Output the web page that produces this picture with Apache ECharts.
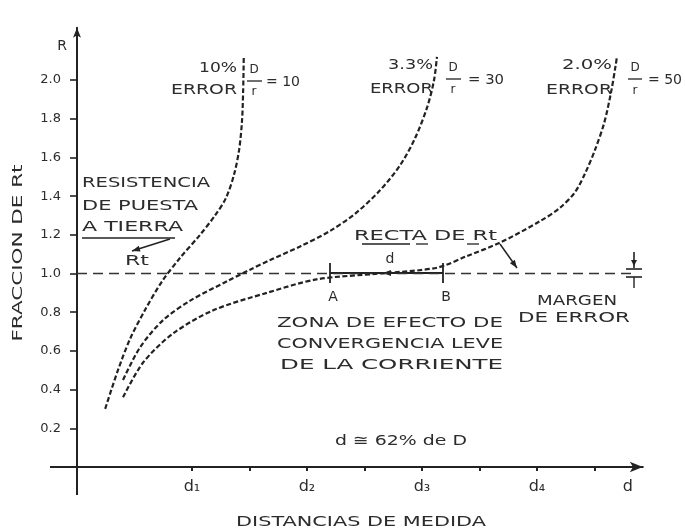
<!DOCTYPE html>
<html>
<head>
<meta charset="utf-8">
<script src="https://cdn.jsdelivr.net/npm/echarts@6/dist/echarts.min.js"></script>
<style>
  html, body { margin: 0; padding: 0; background: #ffffff; }
  #chart { width: 685px; height: 531px; }
</style>
</head>
<body>
<div id="chart"></div>
<script>
// Measured fraction of Rt against the distance of the potential probe
// (x in units of the d-scale, y as fraction of the earth resistance Rt).
const curve10X = [0.49, 0.70, 0.92, 1.18, 1.48, 1.79, 2.14, 2.40, 2.59, 2.73, 2.82, 2.87, 2.89, 2.90];
const curve10Y = [0.30, 0.49, 0.66, 0.81, 0.96, 1.08, 1.20, 1.30, 1.39, 1.51, 1.64, 1.79, 1.95, 2.12];

const curve30X = [0.80, 1.10, 1.50, 1.97, 2.61, 3.01, 3.36, 3.88, 4.40, 4.84, 5.27, 5.62, 5.88, 6.09, 6.21, 6.26];
const curve30Y = [0.45, 0.62, 0.76, 0.86, 0.96, 1.02, 1.07, 1.14, 1.22, 1.31, 1.43, 1.56, 1.70, 1.86, 2.00, 2.12];

const curve50X = [0.80, 1.15, 1.67, 2.37, 3.30, 4.17, 5.27, 6.26, 6.78, 7.36, 8.05, 8.40, 8.66, 8.84, 9.01, 9.17, 9.29, 9.37, 9.39];
const curve50Y = [0.36, 0.54, 0.69, 0.81, 0.90, 0.97, 1.00, 1.03, 1.09, 1.16, 1.27, 1.34, 1.42, 1.52, 1.64, 1.78, 1.94, 2.08, 2.12];

// Level of the true earth resistance (fraction 1.0) and where its line ends
const rtLevel = 1.0;
const rtLineEnd = 9.72;

// Axis ticks and labels
const yTicks = [0.2, 0.4, 0.6, 0.8, 1.0, 1.2, 1.4, 1.6, 1.8, 2.0];
const xTicks = [2, 3, 4, 5, 6, 7, 8, 9];
const xLabelValues = [2, 4, 6, 8, 9.58];
const xLabelNames = ['d\u2081', 'd\u2082', 'd\u2083', 'd\u2084', 'd'];

const ink = '#222222';
const textInk = '#2c2c2c';
const FONT = '"DejaVu Sans"';

function pairs(xs, ys) {
  return xs.map((x, i) => [x, ys[i]]);
}

// Hand-lettered labels are widely spaced: stretch each label to its width.
const measureCtx = document.createElement('canvas').getContext('2d');
function label(text, x, y, width, opt) {
  opt = opt || {};
  const size = opt.size || 14;
  const font = size + 'px ' + FONT;
  measureCtx.font = font;
  const natural = measureCtx.measureText(text).width || 1;
  const align = opt.align || 'left';
  return {
    type: 'text',
    x: x, y: y,
    rotation: opt.rotation || 0,
    scaleX: width ? width / natural : 1,
    silent: true,
    style: {
      text: text, font: font, fill: opt.color || textInk,
      textAlign: align, align: align,
      textVerticalAlign: 'middle', verticalAlign: 'middle'
    }
  };
}

function seg(x1, y1, x2, y2, w) {
  return {
    type: 'line', silent: true,
    shape: { x1: x1, y1: y1, x2: x2, y2: y2 },
    style: { stroke: ink, lineWidth: w || 1.5 }
  };
}

function head(x1, y1, x2, y2, len, wid) {
  const a = Math.atan2(y2 - y1, x2 - x1);
  const L = len || 8, W = wid || 3;
  const bx = x2 - L * Math.cos(a), by = y2 - L * Math.sin(a);
  const nx = -Math.sin(a) * W, ny = Math.cos(a) * W;
  return {
    type: 'polygon', silent: true,
    shape: { points: [[x2, y2], [bx + nx, by + ny], [bx - nx, by - ny]] },
    style: { fill: ink }
  };
}

function arrow(x1, y1, x2, y2) {
  return [seg(x1, y1, x2, y2, 1.5), head(x1, y1, x2, y2, 8, 3)];
}

function curveSeries(name, xs, ys) {
  return {
    name: name,
    type: 'line',
    data: pairs(xs, ys),
    smooth: 0.3,
    showSymbol: false,
    silent: true,
    lineStyle: { color: ink, width: 2.2, type: [5, 2.5] }
  };
}

const chart = echarts.init(document.getElementById('chart'), null, { renderer: 'canvas' });

const graphics = [].concat(
  // axis stubs crossing past the origin
  seg(50, 467, 77, 467, 2),
  seg(77, 467, 77, 495, 2),

  // axis captions
  label('R', 62, 46, 0, { size: 14, align: 'center' }),
  label('FRACCION DE Rt', 18, 253, 177, { size: 14, align: 'center', rotation: Math.PI / 2 }),
  label('DISTANCIAS DE MEDIDA', 361, 522, 250, { size: 14, align: 'center' }),

  // 10 % error curve caption
  label('10%', 237, 68, 38, { align: 'right' }),
  label('ERROR', 237, 90, 66, { align: 'right' }),
  label('D', 254, 70, 0, { size: 12, align: 'center' }),
  seg(247, 81, 262, 81, 1.3),
  label('r', 254, 92, 0, { size: 12, align: 'center' }),
  label('= 10', 266, 82, 34),

  // 3.3 % error curve caption
  label('3.3%', 433, 65, 45, { align: 'right' }),
  label('ERROR', 433, 89, 63, { align: 'right' }),
  label('D', 453, 68, 0, { size: 12, align: 'center' }),
  seg(446, 79, 461, 79, 1.3),
  label('r', 453, 90, 0, { size: 12, align: 'center' }),
  label('= 30', 468, 80, 36),

  // 2.0 % error curve caption
  label('2.0%', 612, 65, 50, { align: 'right' }),
  label('ERROR', 612, 90, 66, { align: 'right' }),
  label('D', 635, 68, 0, { size: 12, align: 'center' }),
  seg(628, 79, 642, 79, 1.3),
  label('r', 635, 91, 0, { size: 12, align: 'center' }),
  label('= 50', 648, 80, 34),

  // earth resistance note
  label('RESISTENCIA', 82, 183, 128),
  label('DE PUESTA', 82, 206, 116),
  label('A TIERRA', 82, 227, 101),
  seg(82, 238, 175, 238, 1.5),
  arrow(170, 239, 132, 251),
  label('Rt', 125, 261, 24),

  // straight line of Rt
  label('RECTA DE Rt', 354, 236, 143),
  seg(362, 244, 410, 244, 1.3),
  seg(416, 244, 428, 244, 1.3),
  seg(467, 244, 479, 244, 1.3),
  arrow(500, 244, 517, 268),

  // plateau A-B of width d
  seg(330, 263, 330, 283, 1.8),
  seg(443, 263, 443, 283, 1.8),
  seg(330, 273, 443, 273, 1.8),
  head(400, 273, 383, 273, 8, 3),
  label('d', 390, 259, 0, { size: 14, align: 'center' }),
  label('A', 333, 297, 0, { size: 14, align: 'center' }),
  label('B', 446, 297, 0, { size: 14, align: 'center' }),

  // error margin marker
  seg(634, 252, 634, 268, 1.6),
  head(634, 252, 634, 266, 6, 3),
  seg(626, 269, 642, 269, 1.6),
  seg(626, 277, 642, 277, 1.6),
  seg(634, 277, 634, 288, 1.4),
  label('MARGEN', 537, 301, 80),
  label('DE ERROR', 518, 318, 112),

  // convergence zone note
  label('ZONA DE EFECTO DE', 277, 323, 226),
  label('CONVERGENCIA LEVE', 277, 344, 226),
  label('DE LA CORRIENTE', 280, 365, 223),
  label('d \u2245 62% de D', 335, 441, 132)
);

chart.setOption({
  animation: false,
  backgroundColor: '#ffffff',
  grid: { left: 77, right: 42.2, top: 27.8, bottom: 64 },
  xAxis: {
    type: 'value',
    min: 0,
    max: 9.84,
    splitLine: { show: false },
    axisLine: {
      show: true,
      symbol: ['none', 'arrow'], symbolSize: [8, 13],
      lineStyle: { color: ink, width: 2 }
    },
    axisTick: { show: true, customValues: xTicks, length: 4, lineStyle: { color: ink, width: 2 } },
    axisLabel: {
      customValues: xLabelValues,
      formatter: function (v) {
        const i = xLabelValues.indexOf(v);
        return i >= 0 ? xLabelNames[i] : '';
      },
      margin: 12, color: textInk, fontSize: 16, fontFamily: FONT
    }
  },
  yAxis: {
    type: 'value',
    min: 0,
    max: 2.27,
    splitLine: { show: false },
    axisLine: {
      show: true,
      symbol: ['none', 'arrow'], symbolSize: [6, 10],
      lineStyle: { color: ink, width: 2 }
    },
    axisTick: { show: true, customValues: yTicks, length: 7, lineStyle: { color: ink, width: 1.6 } },
    axisLabel: {
      customValues: yTicks,
      formatter: function (v) { return v.toFixed(1); },
      margin: 16, color: textInk, fontSize: 13, fontFamily: FONT
    }
  },
  series: [
    {
      name: 'Rt',
      type: 'line',
      data: [[0, rtLevel], [rtLineEnd, rtLevel]],
      showSymbol: false,
      silent: true,
      lineStyle: { color: '#333333', width: 1.5, type: [10, 6] }
    },
    curveSeries('10% ERROR', curve10X, curve10Y),
    curveSeries('3.3% ERROR', curve30X, curve30Y),
    curveSeries('2.0% ERROR', curve50X, curve50Y)
  ],
  graphic: { elements: graphics }
});
</script>
</body>
</html>
